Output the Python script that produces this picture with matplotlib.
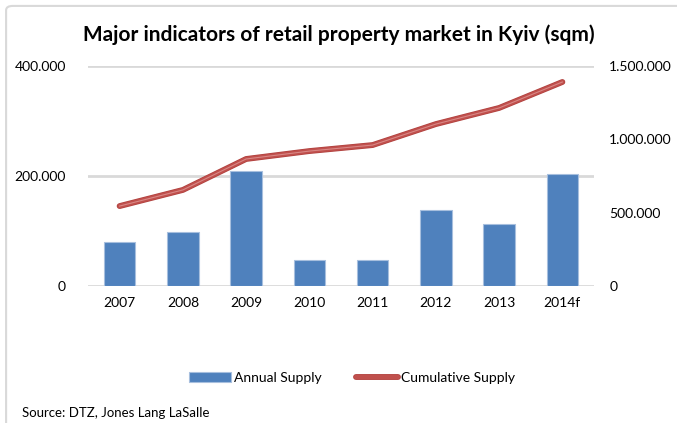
import matplotlib.pyplot as plt
import matplotlib.patheffects as pe
from matplotlib.patches import FancyBboxPatch
from matplotlib.ticker import FuncFormatter

years = ['2007', '2008', '2009', '2010', '2011', '2012', '2013', '2014f']
annual_supply = [80000, 98000, 209000, 47000, 47000, 138000, 113000, 204000]
cumulative_supply = [545000, 655000, 866000, 920000, 961000, 1104000, 1214000, 1391000]

plt.rcParams['font.family'] = ['Lato', 'DejaVu Sans']


def dots(v, pos):
    return f'{int(v):,}'.replace(',', '.')


fig = plt.figure(figsize=(6.77, 4.23), dpi=100)
# chart frame, cut by the right and bottom edges of the picture
fig.patches.append(FancyBboxPatch((0.009, -0.05), 1.02, 1.036, boxstyle='round,pad=0,rounding_size=0.01',
                                  transform=fig.transFigure, fill=False, edgecolor='#d9d9d9', linewidth=1.5))

ax = fig.add_axes([88 / 677, 1 - 286 / 423, (594 - 88) / 677, 220 / 423])
x = range(len(years))
bars = ax.bar(x, annual_supply, width=0.5, color='#4F81BD', edgecolor='#A7BFDE', linewidth=0.8,
              label='Annual Supply', zorder=2)
ax.set_xlim(-0.5, len(years) - 0.5)
ax.set_ylim(0, 400000)
ax.set_yticks([0, 200000, 400000])
ax.yaxis.set_major_formatter(FuncFormatter(dots))
ax.grid(axis='y', color='#d9d9d9', linewidth=2, zorder=0)
ax.set_axisbelow(True)
ax.set_xticks(list(x))
ax.set_xticklabels(years)
for s in ax.spines.values():
    s.set_visible(False)
ax.tick_params(length=0, labelsize=10, pad=8)
ax.tick_params(axis='y', pad=16)

ax2 = ax.twinx()
line, = ax2.plot(x, cumulative_supply, color='#C0504D', linewidth=3.2, label='Cumulative Supply',
                 solid_capstyle='round', zorder=3,
                 path_effects=[pe.Stroke(linewidth=4.2, foreground='#B0403D'), pe.Normal()])
ax2.plot(x, cumulative_supply, color='#D98886', linewidth=0.8, zorder=4)
ax2.set_ylim(0, 1500000)
ax2.set_yticks([0, 500000, 1000000, 1500000])
ax2.yaxis.set_major_formatter(FuncFormatter(dots))
for s in ax2.spines.values():
    s.set_visible(False)
ax2.tick_params(length=0, labelsize=10, pad=11)

fig.text(0.5, 1 - 35 / 423, 'Major indicators of retail property market in Kyiv (sqm)',
         ha='center', va='center', fontsize=15, fontweight='bold')

fig.legend([bars, line], ['Annual Supply', 'Cumulative Supply'], loc='center',
           bbox_to_anchor=(0.52, 1 - 378 / 423), ncol=2, frameon=False, fontsize=10,
           handlelength=3, handletextpad=0.2, columnspacing=2.5)

fig.text(22 / 677, 1 - 413 / 423, 'Source: DTZ, Jones Lang LaSalle', ha='left', va='center', fontsize=9.5)

fig.savefig('out.png', dpi=100)
